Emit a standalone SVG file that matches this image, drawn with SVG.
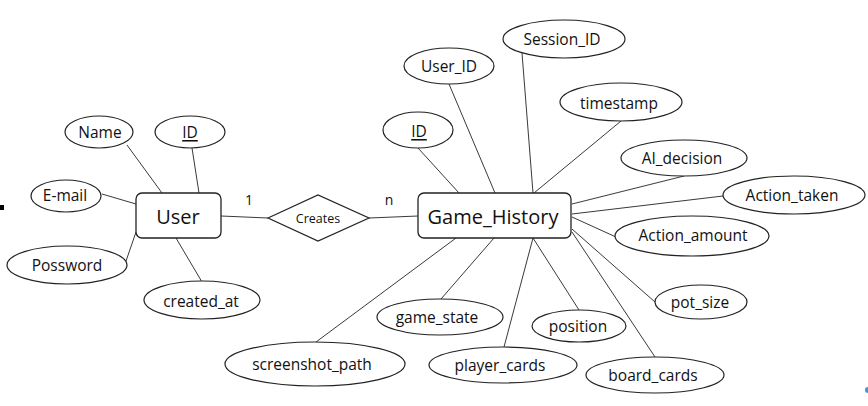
<svg xmlns="http://www.w3.org/2000/svg" width="868" height="406" viewBox="0 0 868 406">
<style>
text{font-family:"Open Sans","Noto Sans","DejaVu Sans",sans-serif;fill:#111;text-anchor:middle;dominant-baseline:central}
.attr ellipse{fill:#fff;stroke:#222;stroke-width:1.2}
.attr text{font-size:15.5px}
.ent rect{fill:#fff;stroke:#222;stroke-width:1.3}
.ent text{font-size:20px}
.rel polygon{fill:#fff;stroke:#222;stroke-width:1.2}
.rel text{font-size:12.5px}
#connectors line{stroke:#222;stroke-width:0.9}
.card{font-size:14px}
.key{text-decoration:underline}
</style>
<rect width="868" height="406" fill="#fff"/>
<rect x="0" y="205" width="4" height="5" fill="#000"/>
<g id="connectors">
<line x1="221" y1="216" x2="268" y2="218"/>
<line x1="369" y1="218" x2="418" y2="216"/>
<line x1="127" y1="145" x2="162" y2="193"/>
<line x1="192" y1="148" x2="199" y2="193"/>
<line x1="102" y1="194" x2="136" y2="204"/>
<line x1="125" y1="264" x2="136" y2="232"/>
<line x1="176" y1="238" x2="202" y2="282"/>
<line x1="418" y1="148" x2="459" y2="193"/>
<line x1="449" y1="84" x2="495" y2="193"/>
<line x1="522" y1="53" x2="533" y2="193"/>
<line x1="621" y1="121" x2="534" y2="193"/>
<line x1="684" y1="176" x2="572" y2="204"/>
<line x1="723" y1="196" x2="572" y2="214"/>
<line x1="616" y1="237" x2="572" y2="217"/>
<line x1="655" y1="302" x2="572" y2="229"/>
<line x1="655" y1="357" x2="572" y2="232"/>
<line x1="579" y1="310" x2="533" y2="238"/>
<line x1="504" y1="347" x2="533" y2="238"/>
<line x1="441" y1="299" x2="494" y2="238"/>
<line x1="316" y1="342" x2="456" y2="238"/>
</g>
<g id="user" class="ent"><rect x="136" y="193" width="85" height="45" rx="6"/><text x="178" y="216">User</text></g>
<g id="creates" class="rel"><polygon points="268,218 318,195 369,218 318,241"/><text x="318" y="218">Creates</text></g>
<text class="card" x="249" y="199">1</text>
<text class="card" x="389" y="199">n</text>
<g id="game_history" class="ent"><rect x="418" y="193" width="153" height="45" rx="6"/><text x="493" y="216">Game_History</text></g>
<g id="user_name" class="attr"><ellipse cx="99" cy="132" rx="34" ry="16"/><text x="100" y="132">Name</text></g>
<g id="user_id" class="attr"><ellipse cx="190" cy="132" rx="35" ry="16"/><text class="key" x="190" y="132">ID</text></g>
<g id="user_email" class="attr"><ellipse cx="66" cy="196" rx="35" ry="16"/><text x="65" y="195">E-mail</text></g>
<g id="user_password" class="attr"><ellipse cx="67" cy="265" rx="60" ry="19"/><text x="67" y="265">Possword</text></g>
<g id="user_created_at" class="attr"><ellipse cx="202" cy="300" rx="58" ry="19"/><text x="201" y="301">created_at</text></g>
<g id="gh_id" class="attr"><ellipse cx="418" cy="130" rx="35" ry="18"/><text class="key" x="419" y="131">ID</text></g>
<g id="gh_user_id" class="attr"><ellipse cx="449" cy="66" rx="45" ry="18"/><text x="449" y="66">User_ID</text></g>
<g id="gh_session_id" class="attr"><ellipse cx="564" cy="39" rx="61" ry="19"/><text x="562" y="39">Session_ID</text></g>
<g id="gh_timestamp" class="attr"><ellipse cx="621" cy="102" rx="61" ry="19"/><text x="619" y="103">timestamp</text></g>
<g id="gh_ai_decision" class="attr"><ellipse cx="684" cy="158" rx="63" ry="18"/><text x="682" y="158">AI_decision</text></g>
<g id="gh_action_taken" class="attr"><ellipse cx="794" cy="195" rx="71" ry="19"/><text x="792" y="195">Action_taken</text></g>
<g id="gh_action_amount" class="attr"><ellipse cx="692" cy="236" rx="77" ry="20"/><text x="693" y="235">Action_amount</text></g>
<g id="gh_pot_size" class="attr"><ellipse cx="701" cy="302" rx="46" ry="17"/><text x="700" y="302">pot_size</text></g>
<g id="gh_board_cards" class="attr"><ellipse cx="655" cy="375" rx="69" ry="18"/><text x="653" y="375">board_cards</text></g>
<g id="gh_position" class="attr"><ellipse cx="579" cy="326" rx="47" ry="16"/><text x="578" y="326">position</text></g>
<g id="gh_player_cards" class="attr"><ellipse cx="503" cy="365" rx="74" ry="18"/><text x="500" y="365">player_cards</text></g>
<g id="gh_game_state" class="attr"><ellipse cx="440" cy="317" rx="63" ry="18"/><text x="437" y="317">game_state</text></g>
<g id="gh_screenshot_path" class="attr"><ellipse cx="315" cy="364" rx="90" ry="22"/><text x="312" y="364">screenshot_path</text></g>
<circle cx="868" cy="390" r="3" fill="#4a90d9"/>
</svg>
